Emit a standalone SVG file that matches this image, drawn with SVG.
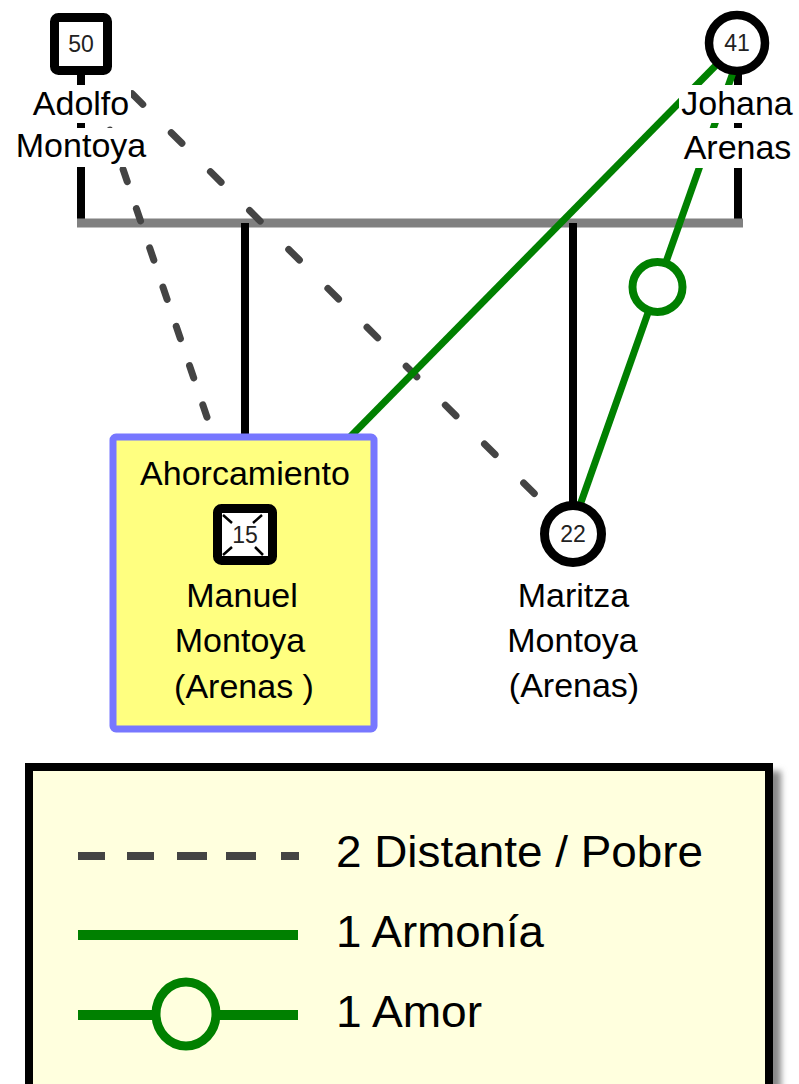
<svg xmlns="http://www.w3.org/2000/svg" width="799" height="1084" viewBox="0 0 799 1084">
<style>
.lbl{font-family:"Liberation Sans",Arial,sans-serif;font-size:34px;fill:#000;text-anchor:middle}
.num{font-family:"Liberation Sans",Arial,sans-serif;font-size:23px;fill:#222;text-anchor:middle}
.leg{font-family:"Liberation Sans",Arial,sans-serif;font-size:44px;fill:#000}
.halo{fill:#fff}
.fam{stroke:#000;stroke-width:8;fill:none}
.dist{stroke:#444;stroke-width:7;fill:none;stroke-linecap:round}
.harm{stroke:#008000;stroke-width:7;fill:none}
</style>
<defs>
<filter id="sh" x="-5%" y="-5%" width="110%" height="110%"><feGaussianBlur stdDeviation="3"/></filter>
</defs>
<rect width="799" height="1084" fill="#fff"/>
<g id="connectors">
<line class="fam" x1="81" y1="70" x2="81" y2="223"/>
<line class="fam" x1="738" y1="70" x2="738" y2="223"/>
<line x1="77" y1="223" x2="743" y2="223" stroke="#808080" stroke-width="9"/>
<line class="fam" x1="245" y1="223" x2="245" y2="436"/>
<line class="fam" x1="573" y1="223" x2="573" y2="505"/>
<line class="dist" x1="80" y1="42" x2="573" y2="532" stroke-dasharray="15 40.2" stroke-dashoffset="36.9"/>
<line class="dist" x1="80" y1="42" x2="212" y2="432" stroke-width="8" stroke-dasharray="13 28.45" stroke-dashoffset="31.4"/>
<line class="harm" x1="350" y1="437" x2="733" y2="48"/>
<line class="harm" x1="579" y1="508" x2="736" y2="64"/>
<circle cx="657.5" cy="287" r="25" fill="#fff" stroke="#008000" stroke-width="8"/>
</g>
<g id="adolfo">
<rect class="halo" x="31" y="85" width="100" height="38"/>
<rect class="halo" x="15" y="128" width="132" height="39"/>
<rect x="54.5" y="17.5" width="53" height="53" rx="4" fill="#fff" stroke="#000" stroke-width="9"/>
<text class="num" x="81" y="52">50</text>
<text class="lbl" x="81" y="115">Adolfo</text>
<text class="lbl" x="81" y="157">Montoya</text>
</g>
<g id="johana">
<rect class="halo" x="679" y="85" width="117" height="38"/>
<rect class="halo" x="680" y="128" width="115" height="40"/>
<circle cx="737" cy="43" r="28" fill="#fff" stroke="#000" stroke-width="8.5"/>
<text class="num" x="737" y="51">41</text>
<text class="lbl" x="737" y="115">Johana</text>
<text class="lbl" x="737.5" y="159">Arenas</text>
</g>
<g id="manuel">
<rect x="113" y="437" width="261" height="292" rx="3" fill="#FFFF80" stroke="#7777FF" stroke-width="7"/>
<text class="lbl" x="245" y="485">Ahorcamiento</text>
<rect x="217.5" y="508.5" width="55" height="52" rx="4" fill="#fff" stroke="#000" stroke-width="9"/>
<path d="M223 515L232 523M262 515L253 523M223 555L232 547M263 555L255 547" stroke="#000" stroke-width="2.5"/>
<text class="num" x="245" y="543">15</text>
<text class="lbl" x="242" y="607">Manuel</text>
<text class="lbl" x="240" y="652">Montoya</text>
<text class="lbl" x="244" y="698">(Arenas )</text>
</g>
<g id="maritza">
<circle cx="573" cy="534" r="28.5" fill="#fff" stroke="#000" stroke-width="9"/>
<text class="num" x="573" y="542">22</text>
<text class="lbl" x="573.5" y="607">Maritza</text>
<text class="lbl" x="572.5" y="652">Montoya</text>
<text class="lbl" x="574" y="697">(Arenas)</text>
</g>
<g id="legend">
<rect x="33" y="771" width="748" height="330" fill="#888" filter="url(#sh)"/>
<rect x="29" y="767" width="740" height="330" fill="#FFFFDE" stroke="#000" stroke-width="8"/>
<path d="M78 856H105M127 856H154M177 856H207M226 856H256M281 856H299" stroke="#444" stroke-width="8"/>
<text class="leg" x="336" y="867" textLength="367" lengthAdjust="spacingAndGlyphs">2 Distante / Pobre</text>
<line x1="78" y1="935" x2="298" y2="935" stroke="#008000" stroke-width="10"/>
<text class="leg" x="336" y="947" textLength="208" lengthAdjust="spacingAndGlyphs">1 Armonía</text>
<path d="M78 1015H156M216 1015H298" stroke="#008000" stroke-width="10"/>
<ellipse cx="186" cy="1014" rx="30" ry="32" fill="none" stroke="#008000" stroke-width="9"/>
<text class="leg" x="336" y="1027" textLength="146" lengthAdjust="spacingAndGlyphs">1 Amor</text>
</g>
</svg>
